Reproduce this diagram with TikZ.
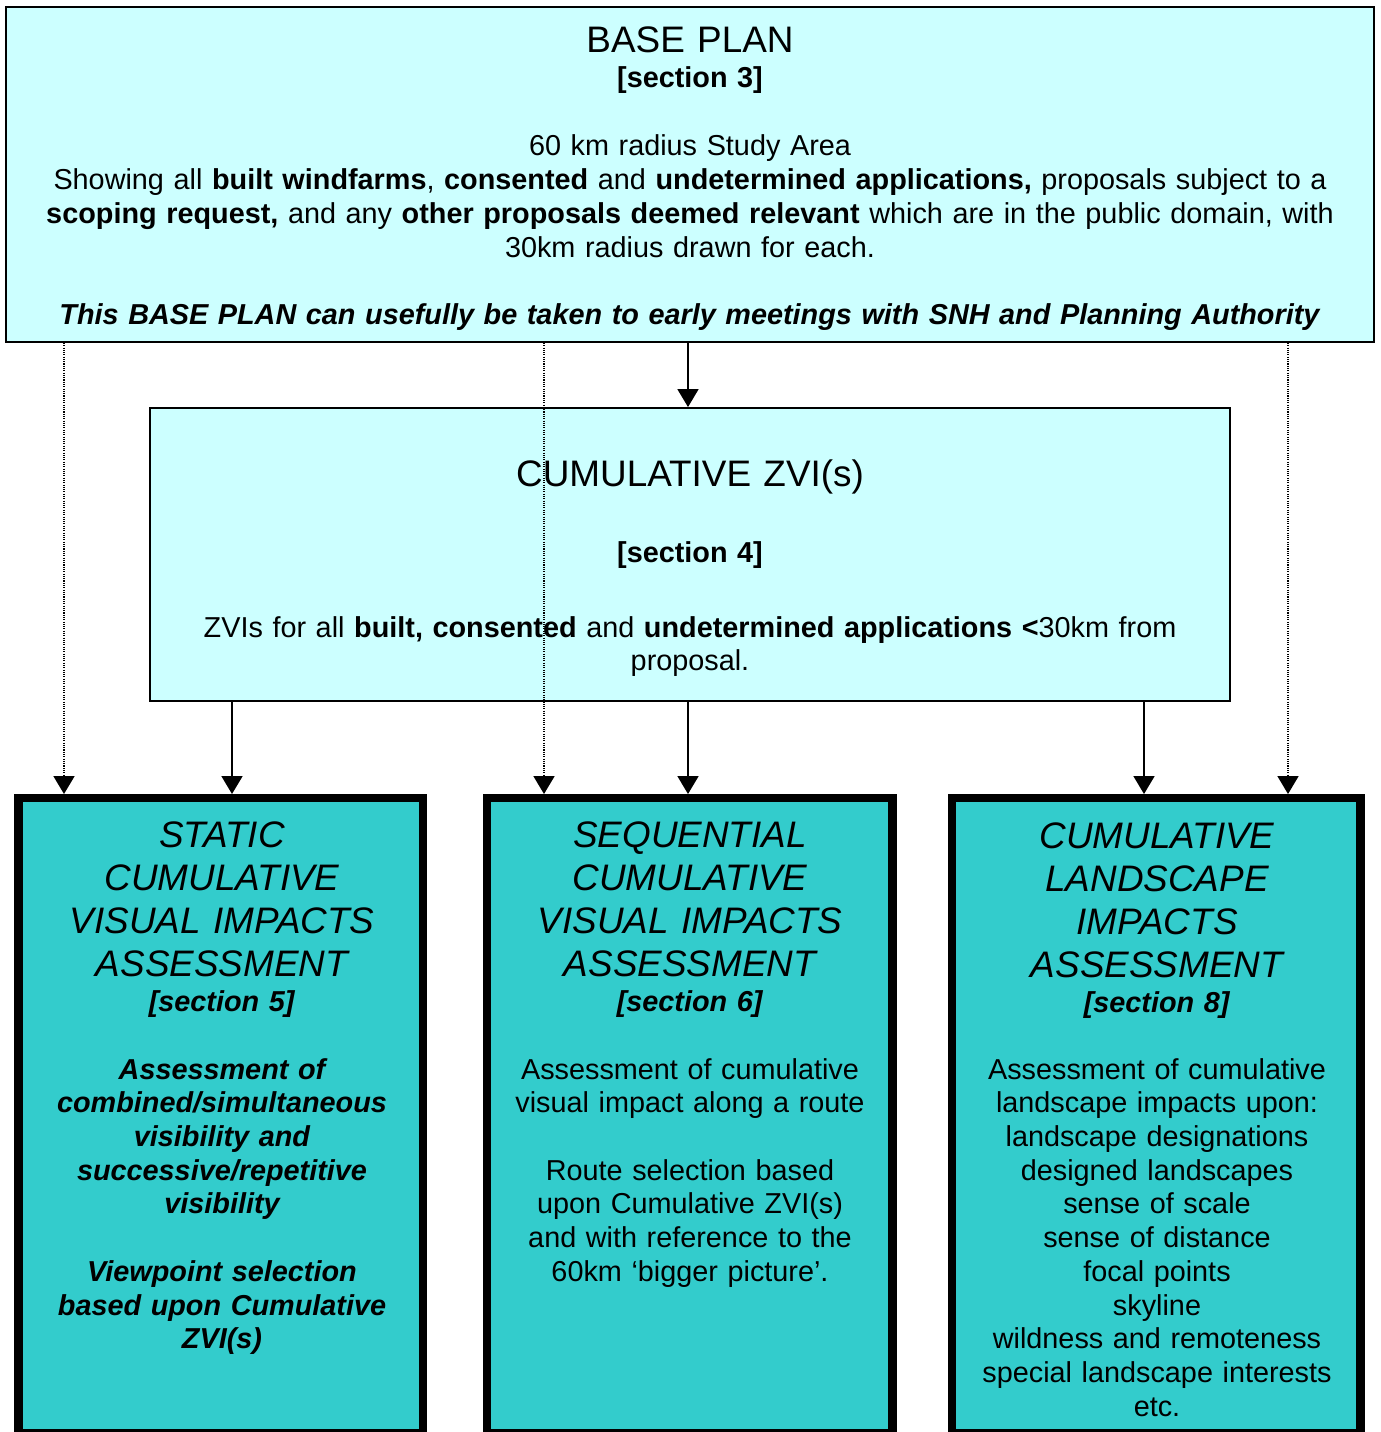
\documentclass[tikz,border=0pt]{standalone}
\usepackage{fontspec}
\setmainfont{Liberation Sans}
\usetikzlibrary{arrows.meta}

\definecolor{paleblue}{HTML}{CCFFFF}
\definecolor{boxteal}{HTML}{33CCCC}

\begin{document}
\begin{tikzpicture}[
    x=0.02cm, y=-0.02cm,
    plan/.style={draw, line width=1.1pt, fill=paleblue, inner sep=0pt},
    assess/.style={draw, line width=4.6pt, fill=boxteal, inner sep=0pt},
    ttl/.style={inner sep=0pt, anchor=base, align=center, text width=#1, font=\fontsize{21}{24.5}\selectfont},
    ttl/.default=8cm,
    txt/.style={inner sep=0pt, anchor=base, align=center, text width=#1, font=\fontsize{16.4}{19.2}\selectfont},
    txt/.default=8cm,
    link/.style={line width=1pt, -{Triangle[length=0.36cm, width=0.42cm]}},
    hint/.style={link, line width=1pt, dash pattern=on 0.6pt off 0.7pt}
]
\useasboundingbox (0,0) rectangle (1381,1432);

% Define boxes
\node[plan, minimum width=27.36cm, minimum height=6.70cm] (base) at (690,174.5) {};
\node[plan, minimum width=21.6cm, minimum height=5.86cm] (zvi) at (690,554.5) {};
\node[assess, minimum width=8.09cm, minimum height=12.7cm] (stat) at (220.75,1115.5) {};
\node[assess, minimum width=8.11cm, minimum height=12.7cm] (seq) at (689.75,1115.5) {};
\node[assess, minimum width=8.17cm, minimum height=12.7cm] (land) at (1156.25,1115.5) {};

% Base plan text
\node[ttl=20cm] (basettl) at (690,53) {BASE PLAN};
\node[txt=20cm] (basesec) at (690,88) {\textbf{[section 3]}};
\node[txt=27cm] (basebody) at (690,156) {60 km radius Study Area\\
  Showing all \textbf{built windfarms}, \textbf{consented} and \textbf{undetermined applications,} proposals subject to a\\
  \textbf{scoping request,} and any \textbf{other proposals deemed relevant} which are in the public domain, with\\
  30km radius drawn for each.};
\node[txt=27cm] (basenote) at (690,325) {\textbf{\textit{This BASE PLAN can usefully be taken to early meetings with SNH and Planning Authority}}};

% Cumulative ZVI text
\node[ttl=20cm] (zvittl) at (690,486) {CUMULATIVE ZVI(s)};
\node[txt=20cm] (zvisec) at (690,562) {\textbf{[section 4]}};
\node[txt=21cm] (zvibody) at (690,637) {ZVIs for all \textbf{built, consented} and \textbf{undetermined applications <}30km from\\ proposal.};

% Static assessment text
\node[ttl, font=\fontsize{21}{24.5}\selectfont\itshape] (statttl) at (222,847) {STATIC\\ CUMULATIVE\\ VISUAL IMPACTS\\ ASSESSMENT};
\node[txt] (statsec) at (222,1011) {\textbf{\textit{[section 5]}}};
\node[txt, font=\fontsize{16.4}{19.2}\selectfont\bfseries\itshape] (statbody) at (222,1079) {Assessment of\\ combined/simultaneous\\ visibility and\\ successive/repetitive\\ visibility\\[19.2pt] Viewpoint selection\\ based upon Cumulative\\ ZVI(s)};

% Sequential assessment text
\node[ttl, font=\fontsize{21}{24.5}\selectfont\itshape] (seqttl) at (690,847) {SEQUENTIAL\\ CUMULATIVE\\ VISUAL IMPACTS\\ ASSESSMENT};
\node[txt] (seqsec) at (690,1011) {\textbf{\textit{[section 6]}}};
\node[txt] (seqbody) at (690,1079) {Assessment of cumulative\\ visual impact along a route\\[19.2pt] Route selection based\\ upon Cumulative ZVI(s)\\ and with reference to the\\ 60km ‘bigger picture’.};

% Landscape assessment text
\node[ttl, font=\fontsize{21}{24.5}\selectfont\itshape] (landttl) at (1157,848) {CUMULATIVE\\ LANDSCAPE\\ IMPACTS\\ ASSESSMENT};
\node[txt] (landsec) at (1157,1012) {\textbf{\textit{[section 8]}}};
\node[txt] (landbody) at (1157,1079) {Assessment of cumulative\\ landscape impacts upon:\\ landscape designations\\ designed landscapes\\ sense of scale\\ sense of distance\\ focal points\\ skyline\\ wildness and remoteness\\ special landscape interests\\ etc.};

% Arrow columns
\coordinate (c1) at (64,0);
\coordinate (c2) at (232,0);
\coordinate (c3) at (544,0);
\coordinate (c4) at (688,0);
\coordinate (c5) at (1144,0);
\coordinate (c6) at (1288,0);

% Solid arrows
\draw[link] (base.south -| c4) -- (zvi.north -| c4);
\draw[link] (zvi.south -| c2) -- (stat.north -| c2);
\draw[link] (zvi.south -| c4) -- (seq.north -| c4);
\draw[link] (zvi.south -| c5) -- (land.north -| c5);

% Dotted arrows straight from the base plan
\draw[hint] (base.south -| c1) -- (stat.north -| c1);
\draw[hint] (base.south -| c3) -- (seq.north -| c3);
\draw[hint] (base.south -| c6) -- (land.north -| c6);

\end{tikzpicture}
\end{document}
